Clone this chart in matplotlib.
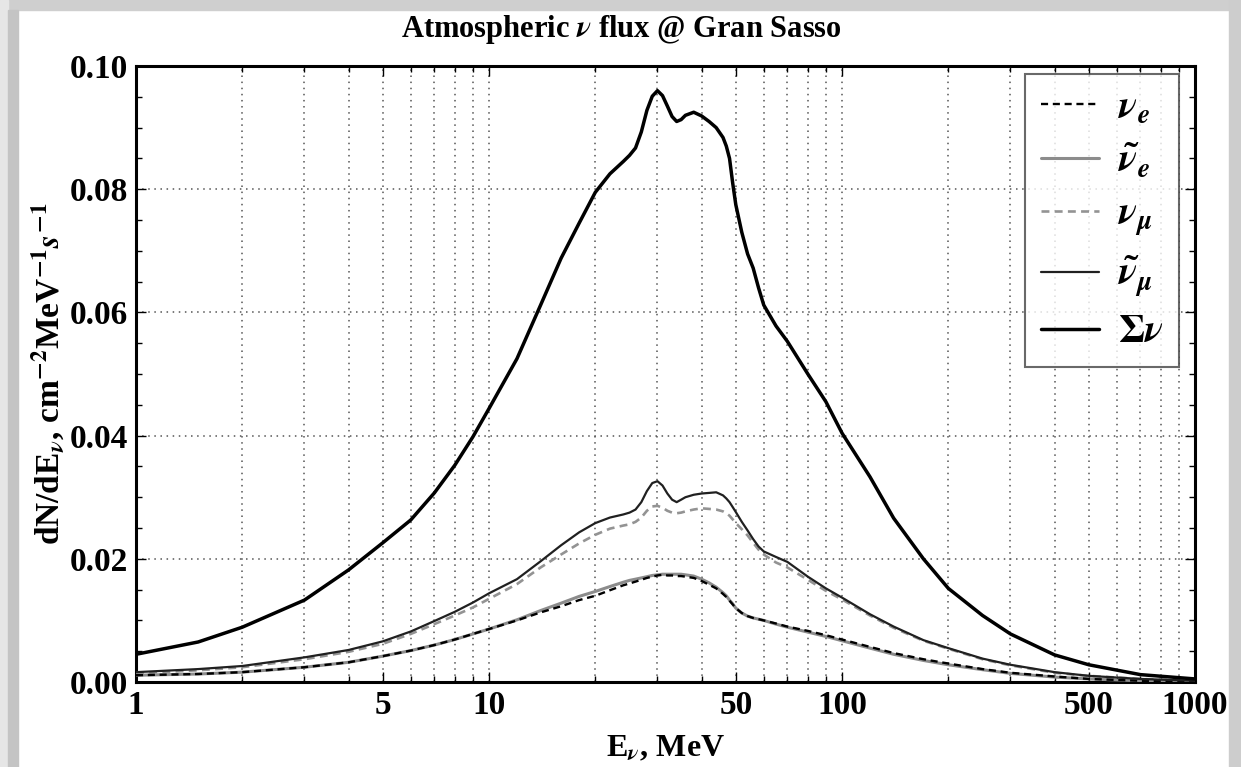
import numpy as np
import matplotlib
matplotlib.use("Agg")
import matplotlib.pyplot as plt
from matplotlib.patches import Rectangle
from matplotlib.ticker import FixedLocator, NullFormatter, MultipleLocator, FixedFormatter

plt.rcParams["font.family"] = ["Liberation Serif", "DejaVu Serif"]
plt.rcParams["font.weight"] = "bold"
plt.rcParams["mathtext.fontset"] = "stix"

# energy grid, MeV
energy = [1, 1.5, 2, 3, 4, 5, 6, 7, 8, 9, 10,
          12, 14, 16, 18, 20, 22,
          24, 25, 26, 27, 28, 29, 30, 31, 32, 33, 34, 35, 36,
          38, 40, 42, 44, 46, 47, 48, 49, 50,
          52, 54, 56, 58, 60, 65, 70,
          80, 90, 100, 120, 140, 170, 200, 250, 300, 400, 500, 700, 1000]

flux_sum = [0.0045, 0.0065, 0.0089, 0.0133, 0.0182, 0.0226, 0.0263, 0.0307, 0.0352, 0.0398, 0.0444,
            0.0525, 0.0612, 0.0688, 0.0745, 0.0795, 0.0825,
            0.0845, 0.0855, 0.0867, 0.0893, 0.0928, 0.0951, 0.0960, 0.0952, 0.0935, 0.0918, 0.0910, 0.0913, 0.0920,
            0.0925, 0.0919, 0.0910, 0.0900, 0.0884, 0.0870, 0.0850, 0.0810, 0.0775,
            0.0730, 0.0695, 0.0672, 0.0640, 0.0612, 0.0578, 0.0553,
            0.0500, 0.0455, 0.0404, 0.0333, 0.0266, 0.0200, 0.0152, 0.0108, 0.0078, 0.0044, 0.0028, 0.0012, 0.0005]

anti_numu = [0.0016, 0.0021, 0.0026, 0.0040, 0.0052, 0.0066, 0.0082, 0.0099, 0.0114, 0.0129, 0.0144,
             0.0167, 0.0196, 0.0222, 0.0243, 0.0258, 0.0267,
             0.0272, 0.0275, 0.0280, 0.0292, 0.0310, 0.0323, 0.0326, 0.0319, 0.0306, 0.0296, 0.0292, 0.0296, 0.0300,
             0.0304, 0.0306, 0.0307, 0.0308, 0.0303, 0.0298, 0.0292, 0.0284, 0.0276,
             0.0260, 0.0246, 0.0232, 0.0220, 0.0212, 0.0203, 0.0195,
             0.0171, 0.0152, 0.0137, 0.0110, 0.0090, 0.0068, 0.0055, 0.0038, 0.0028, 0.0016, 0.0010, 0.0005, 0.0002]

numu = [0.0014, 0.0019, 0.0024, 0.0037, 0.0049, 0.0062, 0.0078, 0.0094, 0.0108, 0.0121, 0.0135,
        0.0159, 0.0186, 0.0207, 0.0225, 0.0239, 0.0249,
        0.0254, 0.0256, 0.0260, 0.0267, 0.0278, 0.0285, 0.0286, 0.0283, 0.0278, 0.0275, 0.0274, 0.0275, 0.0277,
        0.0280, 0.0282, 0.0281, 0.0280, 0.0277, 0.0274, 0.0270, 0.0264, 0.0258,
        0.0248, 0.0238, 0.0226, 0.0215, 0.0207, 0.0194, 0.0186,
        0.0166, 0.0148, 0.0134, 0.0108, 0.0088, 0.0067, 0.0054, 0.0037, 0.0027, 0.0015, 0.0010, 0.0005, 0.0002]

anti_nue = [0.0011, 0.0013, 0.0016, 0.0024, 0.0032, 0.0042, 0.0051, 0.0060, 0.0069, 0.0078, 0.0086,
            0.0101, 0.0116, 0.0128, 0.0139, 0.0147, 0.0155,
            0.0162, 0.0165, 0.0167, 0.0169, 0.0171, 0.0173, 0.0174, 0.0175, 0.0175, 0.0175, 0.0175, 0.0175, 0.0174,
            0.0172, 0.0167, 0.0161, 0.0154, 0.0145, 0.0140, 0.0133, 0.0127, 0.0120,
            0.0112, 0.0107, 0.0104, 0.0102, 0.0100, 0.0094, 0.0089,
            0.0081, 0.0074, 0.0067, 0.0055, 0.0045, 0.0035, 0.0028, 0.0020, 0.0014, 0.0008, 0.0005, 0.0002, 0.0001]

nue = [0.0011, 0.0013, 0.0016, 0.0024, 0.0032, 0.0042, 0.0051, 0.0060, 0.0069, 0.0078, 0.0086,
       0.0100, 0.0113, 0.0123, 0.0133, 0.0140, 0.0149,
       0.0157, 0.0160, 0.0163, 0.0166, 0.0169, 0.0171, 0.0173, 0.0174, 0.0173, 0.0173, 0.0172, 0.0172, 0.0171,
       0.0169, 0.0164, 0.0158, 0.0152, 0.0143, 0.0138, 0.0132, 0.0126, 0.0120,
       0.0112, 0.0107, 0.0104, 0.0102, 0.0100, 0.0095, 0.0090,
       0.0083, 0.0076, 0.0069, 0.0057, 0.0047, 0.0037, 0.0030, 0.0021, 0.0015, 0.0009, 0.0005, 0.0002, 0.0001]

fig = plt.figure(figsize=(12.41, 7.67), dpi=100)
ax = fig.add_axes([0.1096, 0.1108, 0.8534, 0.8031])

kw = dict(solid_joinstyle="round", solid_capstyle="round")
ax.plot(energy, nue, color="black", lw=1.7, ls=(0, (3, 2)), label=r"$\boldsymbol{\nu_e}$", zorder=4)
ax.plot(energy, anti_nue, color="#8c8c8c", lw=2.2, label=r"$\boldsymbol{\tilde{\nu}_e}$", zorder=3, **kw)
ax.plot(energy, numu, color="#939393", lw=1.9, ls=(0, (3, 2)), label=r"$\boldsymbol{\nu_\mu}$", zorder=3)
ax.plot(energy, anti_numu, color="#202020", lw=1.6, label=r"$\boldsymbol{\tilde{\nu}_\mu}$", zorder=4, **kw)
ax.plot(energy, flux_sum, color="black", lw=2.5, label=r"$\boldsymbol{\Sigma\nu}$", zorder=5, **kw)

ax.set_xscale("log")
ax.set_xlim(1, 1000)
ax.set_ylim(0, 0.10)

xmaj = [1, 5, 10, 50, 100, 500, 1000]
ax.xaxis.set_major_locator(FixedLocator(xmaj))
ax.xaxis.set_major_formatter(FixedFormatter([str(v) for v in xmaj]))
xmin = [m * d for d in (1, 10, 100) for m in range(2, 10) if m * d not in xmaj]
ax.xaxis.set_minor_locator(FixedLocator(xmin))
ax.xaxis.set_minor_formatter(NullFormatter())
ax.yaxis.set_major_locator(MultipleLocator(0.02))
ax.yaxis.set_minor_locator(MultipleLocator(0.005))
ax.yaxis.set_major_formatter(matplotlib.ticker.FormatStrFormatter("%.2f"))

ax.tick_params(which="both", direction="in", top=True, right=True, width=1)
ax.tick_params(which="major", length=7, labelsize=24, pad=6)
ax.tick_params(which="minor", length=4)
for lab in ax.get_xticklabels() + ax.get_yticklabels():
    lab.set_fontweight("bold")

ax.grid(True, which="both", axis="x", ls=(0, (1, 3)), color="#555555", lw=1.1)
ax.grid(True, which="major", axis="y", ls=(0, (1, 3)), color="#555555", lw=1.1)
for s in ax.spines.values():
    s.set_linewidth(2.2)

fig.text(621 / 1241, 1 - 29 / 767, r"Atmospheric $\nu$ flux @ Gran Sasso",
         fontsize=22, fontweight="bold", ha="center", va="center")
ax.set_xlabel(r"E$_\nu$, MeV", fontsize=23, fontweight="bold", labelpad=9)
ax.set_ylabel(r"dN/dE$_\nu$, cm$^{\mathbf{-2}}$MeV$^{\mathbf{-1}}$$s^{\mathbf{-1}}$",
              fontsize=24, fontweight="bold", labelpad=2)

leg = ax.legend(loc="upper right", bbox_to_anchor=(0.985, 0.987), fontsize=28,
                frameon=True, fancybox=False, handlelength=1.5, handletextpad=0.5,
                labelspacing=0.4, borderpad=0.4, borderaxespad=0.0)
leg.get_frame().set_edgecolor("#444444")
leg.get_frame().set_linewidth(1.5)

# drop shadow frame around picture
W, H = 1241, 767
fig.patches.append(Rectangle((0, 1 - 10 / H), 1, 10 / H, transform=fig.transFigure,
                             color="#cfcfcf", zorder=0))
fig.patches.append(Rectangle((0, 0), 8 / W, 1, transform=fig.transFigure,
                             color="#e6e6e6", zorder=0))
fig.patches.append(Rectangle((8 / W, 0), 10 / W, 1 - 10 / H, transform=fig.transFigure,
                             color="#c4c4c4", zorder=0))
fig.patches.append(Rectangle((1 - 12 / W, 0), 12 / W, 1, transform=fig.transFigure,
                             color="#cdcdcd", zorder=0))

fig.savefig("out.png", dpi=100)
